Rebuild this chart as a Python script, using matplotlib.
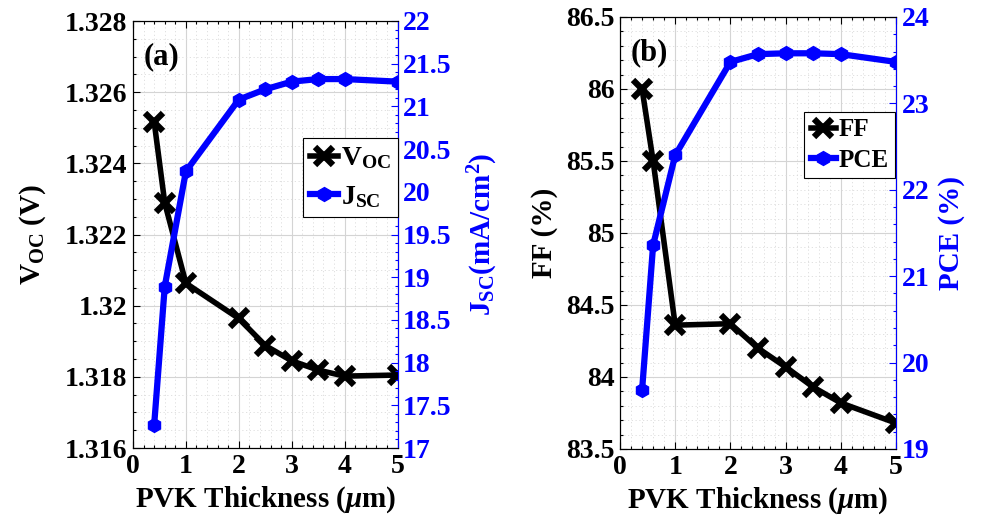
import matplotlib
matplotlib.use("Agg")
import matplotlib.pyplot as plt
from matplotlib.ticker import MultipleLocator, FormatStrFormatter, FuncFormatter

plt.rcParams['font.family'] = ['Liberation Serif', 'DejaVu Serif']
plt.rcParams['font.weight'] = 'bold'
plt.rcParams['mathtext.fontset'] = 'custom'
plt.rcParams['mathtext.rm'] = 'Liberation Serif:bold'
plt.rcParams['mathtext.bf'] = 'Liberation Serif:bold'
plt.rcParams['mathtext.it'] = 'Liberation Serif:italic:bold'
plt.rcParams['axes.linewidth'] = 0.8

# PVK thickness (um)
thickness = [0.4, 0.6, 1, 2, 2.5, 3, 3.5, 4, 5]

# Panel (a)
voc = [1.32517, 1.32289, 1.32063, 1.31964, 1.31888, 1.31845, 1.31819, 1.31802, 1.31805]
jsc = [17.27, 18.89, 20.24, 21.08, 21.20, 21.29, 21.32, 21.32, 21.29]

# Panel (b)
ff = [86.00, 85.50, 84.36, 84.37, 84.20, 84.07, 83.93, 83.82, 83.68]
pce = [19.68, 21.36, 22.40, 23.48, 23.57, 23.58, 23.58, 23.57, 23.48]

BLUE = (0, 0, 1)
FS = 20

fig = plt.figure(figsize=(9.83, 5.30), dpi=100)


def style_axes(ax, tw, x_minor, yl_major, yl_minor, yr_major, yr_minor):
    ax.set_xlim(0, 5)
    ax.xaxis.set_major_locator(MultipleLocator(1))
    ax.xaxis.set_minor_locator(MultipleLocator(x_minor))
    ax.yaxis.set_major_locator(MultipleLocator(yl_major))
    ax.yaxis.set_minor_locator(MultipleLocator(yl_minor))
    tw.yaxis.set_major_locator(MultipleLocator(yr_major))
    tw.yaxis.set_minor_locator(MultipleLocator(yr_minor))
    ax.grid(True, which='major', color='#d4d4d4', lw=0.8, ls='-')
    ax.grid(True, which='minor', color='#dcdcdc', lw=0.6, ls=(0, (1.5, 3)))
    ax.set_axisbelow(True)
    ax.tick_params(which='both', direction='in', top=True, right=False,
                   labelsize=FS, width=0.8, pad=4)
    ax.tick_params(which='major', length=5)
    ax.tick_params(which='minor', length=2.5)
    tw.tick_params(which='both', direction='in', colors=BLUE,
                   labelsize=FS, width=0.8, pad=4)
    tw.tick_params(which='major', length=5)
    tw.tick_params(which='minor', length=2.5)
    tw.spines['right'].set_color(BLUE)
    for lab in ax.get_xticklabels() + ax.get_yticklabels() + tw.get_yticklabels():
        lab.set_fontweight('bold')


def draw_panel(rect, yl, yr, lbl_l, lbl_r, leg_l, leg_r, ylim_l, ylim_r,
               ticks, tag, leg_anchor, fmt_l, pad_l, pad_r, leg_fs, leg_sp):
    ax = fig.add_axes(rect)
    tw = ax.twinx()
    l1, = ax.plot(thickness, yl, color='k', lw=4, marker='x', ms=13, mew=4.5,
                  label=leg_l)
    l2, = tw.plot(thickness, yr, color=BLUE, lw=4.5, marker='h', ms=10,
                  mfc=BLUE, mec=BLUE, label=leg_r)
    ax.set_ylim(*ylim_l)
    tw.set_ylim(*ylim_r)
    style_axes(ax, tw, *ticks)
    ax.yaxis.set_major_formatter(fmt_l)
    tw.yaxis.set_major_formatter(FormatStrFormatter('%g'))
    ax.set_xlabel(r'PVK Thickness ($\mu$m)', fontsize=FS + 1, fontweight='bold',
                  labelpad=4)
    ax.set_ylabel(lbl_l, fontsize=FS + 1, fontweight='bold', labelpad=pad_l)
    tw.set_ylabel(lbl_r, fontsize=FS + 1, fontweight='bold', color=BLUE,
                  labelpad=pad_r)
    ax.text(0.04, 0.95, tag, transform=ax.transAxes, fontsize=FS + 2,
            fontweight='bold', va='top', ha='left')
    leg = tw.legend([l1, l2], [leg_l, leg_r], loc='upper right',
                    bbox_to_anchor=leg_anchor, fontsize=leg_fs,
                    handlelength=1.0, handletextpad=0.1, borderpad=0.25,
                    labelspacing=leg_sp, borderaxespad=0, fancybox=False,
                    framealpha=1, edgecolor='k')
    leg.get_frame().set_linewidth(0.8)
    for t in leg.get_texts():
        t.set_fontweight('bold')
    return ax, tw


fmt_voc = FuncFormatter(lambda v, p: f'{v:.3f}'.rstrip('0'))
draw_panel([133 / 983, 82 / 530, 264.5 / 983, 427 / 530],
           voc, jsc, r'V$_{\mathbf{OC}}$ (V)', r'J$_{\mathbf{SC}}$(mA/cm$^{\mathbf{2}}$)',
           r'V$_{\mathbf{OC}}$', r'J$_{\mathbf{SC}}$',
           (1.316, 1.328), (17, 22), (0.2, 0.002, 0.0005, 0.5, 0.1), '(a)',
           (1.0, 0.725), fmt_voc, 12, 10, 20, 0.45)

fmt_ff = FormatStrFormatter('%g')
draw_panel([620 / 983, 81 / 530, 276 / 983, 432 / 530],
           ff, pce, 'FF (%)', 'PCE (%)', 'FF', 'PCE',
           (83.5, 86.5), (19, 24), (0.2, 0.5, 0.1, 1, 0.2), '(b)',
           (0.995, 0.78), fmt_ff, 6, 6, 18, 0.3)

fig.savefig('out.png', dpi=100)
